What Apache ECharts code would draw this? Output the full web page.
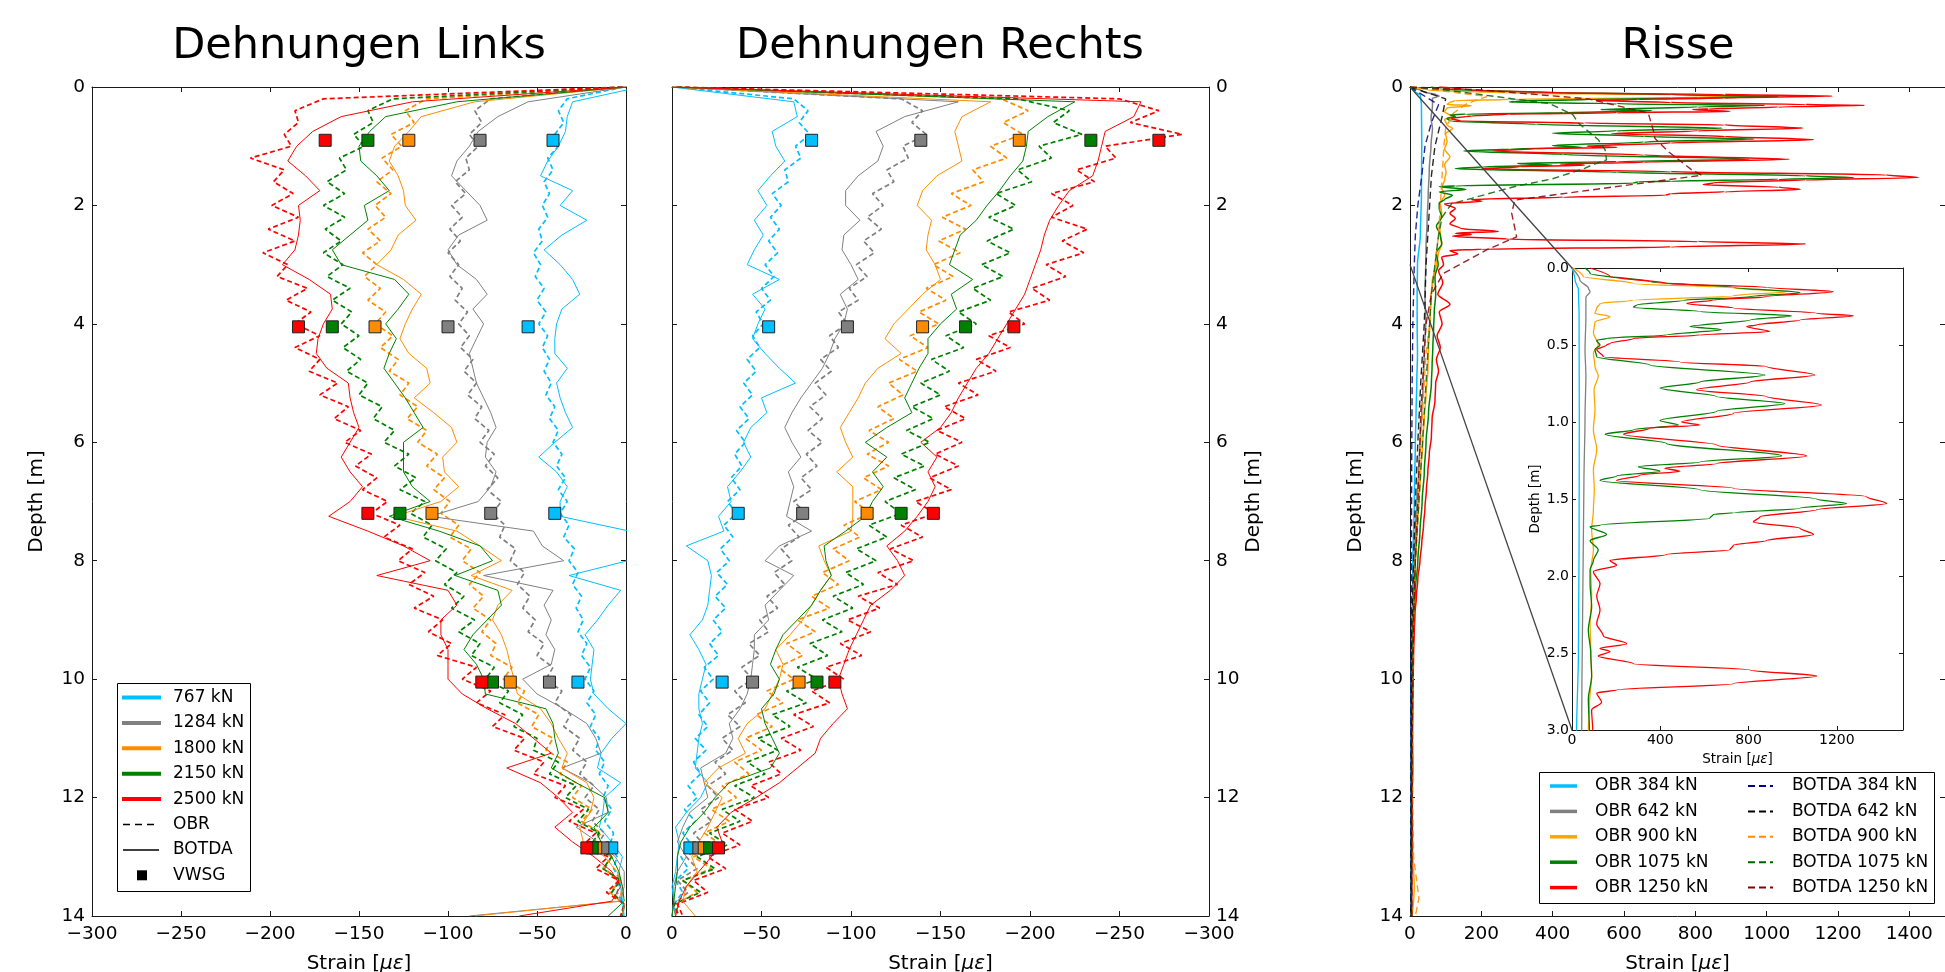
<!DOCTYPE html>
<html><head><meta charset="utf-8">
<script src="https://cdn.jsdelivr.net/npm/echarts/dist/echarts.min.js"></script>
<style>html,body{margin:0;padding:0;background:#fff;}#c{width:1945px;height:972px;}</style>
</head><body><div id="c"></div>
<script>
const FONT = 'DejaVu Sans';
// ---------- depth grids ----------
const depthObr = [0,0.2,0.4,0.6,0.8,1,1.2,1.4,1.6,1.8,2,2.2,2.4,2.6,2.8,3,3.2,3.4,3.6,3.8,4,4.2,4.4,4.6,4.8,5,5.2,5.4,5.6,5.8,6,6.2,6.4,6.6,6.8,7,7.2,7.4,7.6,7.8,8,8.2,8.4,8.6,8.8,9,9.2,9.4,9.6,9.8,10,10.2,10.4,10.6,10.8,11,11.2,11.4,11.6,11.8,12,12.2,12.4,12.6,12.8,13,13.2,13.4,13.6,13.8,14];
const depthBotda = [0,0.25,0.5,0.75,1,1.25,1.5,1.75,2,2.25,2.5,2.75,3,3.25,3.5,3.75,4,4.25,4.5,4.75,5,5.25,5.5,5.75,6,6.25,6.5,6.75,7,7.25,7.5,7.75,8,8.25,8.5,8.75,9,9.25,9.5,9.75,10,10.25,10.5,10.75,11,11.25,11.5,11.75,12,12.25,12.5,12.75,13,13.25,13.5,13.75,14];
const depthVwsg = [0.9,4.05,7.2,10.05,12.85];
const loadsDehn = ['767 kN','1284 kN','1800 kN','2150 kN','2500 kN'];
const loadsRisse = ['384 kN','642 kN','900 kN','1075 kN','1250 kN'];
const colorsDehn = ['#00bfff','#808080','#ff8c00','#008000','#ff0000'];
const colorsRisseObr = ['#00bfff','#808080','#ffa500','#008000','#ff0000'];
const colorsRisseBotda = ['#00008b','#000000','#ff8c00','#006400','#8b0000'];

// ---------- Dehnungen Links ----------
const obrL767 = [-1,-33,-38,-35,-40,-38,-44,-41,-46,-43,-47,-44,-49,-47,-52,-48,-51,-46,-50,-45,-49,-44,-47,-43,-46,-42,-45,-40,-43,-38,-41,-36,-39,-34,-38,-33,-37,-32,-35,-29,-32,-27,-30,-25,-28,-24,-27,-22,-25,-20,-23,-18,-22,-17,-20,-15,-17,-12,-15,-10,-13,-8,-12,-7,-9,-5,-7,-3,-5,-1,-2];
const obrL1284 = [-2,-76,-85,-81,-88,-83,-90,-88,-96,-90,-98,-92,-99,-93,-100,-94,-99,-92,-96,-89,-94,-88,-93,-86,-91,-84,-89,-81,-85,-77,-82,-74,-79,-72,-78,-70,-75,-68,-71,-62,-65,-57,-61,-54,-58,-51,-55,-46,-50,-41,-45,-36,-40,-31,-35,-26,-30,-22,-26,-18,-23,-15,-19,-12,-16,-8,-12,-4,-8,-1,-3];
const obrL1800 = [-2,-112,-124,-119,-132,-126,-137,-131,-140,-132,-141,-135,-145,-138,-148,-140,-147,-138,-145,-135,-141,-131,-138,-128,-133,-122,-127,-117,-123,-112,-117,-106,-112,-102,-108,-99,-104,-94,-99,-87,-92,-82,-88,-80,-86,-76,-81,-73,-76,-64,-69,-57,-61,-49,-53,-41,-45,-33,-37,-25,-30,-19,-25,-14,-19,-8,-13,-3,-9,-1,-2];
const obrL2150 = [-2,-131,-145,-142,-153,-147,-161,-157,-168,-158,-170,-158,-169,-160,-170,-159,-168,-155,-165,-154,-160,-150,-159,-149,-157,-145,-150,-137,-142,-130,-136,-122,-130,-118,-127,-113,-121,-109,-114,-101,-107,-95,-102,-91,-98,-85,-94,-82,-87,-74,-79,-66,-71,-58,-63,-50,-52,-38,-43,-28,-34,-21,-27,-15,-20,-8,-13,-3,-8,-1,-2];
const obrL2500 = [-2,-170,-186,-184,-192,-188,-211,-192,-198,-187,-199,-184,-201,-186,-204,-190,-196,-179,-191,-177,-186,-172,-186,-172,-178,-162,-172,-156,-164,-149,-158,-143,-152,-140,-148,-134,-143,-127,-136,-120,-128,-113,-122,-108,-119,-103,-111,-98,-106,-84,-92,-76,-84,-68,-75,-57,-63,-46,-52,-34,-40,-24,-32,-17,-24,-10,-17,-4,-11,-1,-3];
const botdaL767 = [8,-30,-33,-34,-38,-44,-48,-30,-37,-22,-36,-46,-37,-30,-26,-36,-39,-40,-40,-33,-39,-37,-34,-30,-40,-49,-39,-33,-37,-37,2,5,1,-32,-3,-10,-16,-23,-18,-19,-20,-18,-10,0,-8,-14,-16,-3,-12,-13,-15,-8,-2,-4,-3,-2,-1];
const botdaL1284 = [0,-55,-72,-83,-88,-95,-98,-90,-82,-78,-94,-100,-95,-84,-78,-86,-80,-84,-88,-86,-84,-80,-76,-73,-78,-79,-73,-76,-83,-110,-52,-47,-35,-80,-41,-46,-42,-45,-40,-42,-58,-50,-35,-22,-17,-14,-36,-20,-11,-10,-28,-16,-6,-1,-1,-3,-88];
const botdaL1800 = [0,-85,-115,-122,-130,-133,-128,-125,-124,-118,-128,-132,-140,-125,-115,-120,-124,-127,-122,-112,-110,-119,-108,-98,-95,-103,-102,-94,-104,-130,-95,-82,-70,-87,-64,-72,-75,-70,-67,-65,-63,-61,-48,-42,-38,-33,-36,-22,-18,-20,-26,-24,-12,-5,-2,-4,-85];
const botdaL2150 = [0,-95,-135,-144,-150,-149,-140,-133,-147,-145,-155,-165,-160,-130,-122,-128,-135,-129,-133,-136,-130,-124,-119,-114,-125,-125,-125,-120,-110,-133,-105,-82,-75,-96,-72,-70,-78,-86,-91,-84,-80,-79,-45,-41,-40,-38,-42,-28,-12,-10,-18,-14,-8,-4,-2,-1,-10];
const botdaL2500 = [0,-120,-160,-176,-185,-190,-180,-172,-184,-183,-184,-186,-193,-178,-166,-165,-170,-173,-174,-168,-156,-155,-153,-150,-155,-160,-155,-148,-155,-167,-145,-125,-110,-140,-100,-95,-104,-104,-100,-100,-100,-92,-78,-62,-52,-42,-67,-48,-38,-30,-40,-30,-18,-8,-3,-8,-60];
const vwsgL767 = [-41,-55,-40,-27,-8];
const vwsgL1284 = [-82,-100,-76,-43,-13];
const vwsgL1800 = [-122,-141,-109,-65,-17];
const vwsgL2150 = [-145,-165,-127,-75,-19];
const vwsgL2500 = [-169,-184,-145,-81,-22];

// ---------- Dehnungen Rechts ----------
const obrR767 = [-2,-68,-76,-71,-77,-69,-72,-63,-65,-56,-61,-55,-60,-54,-59,-52,-57,-50,-55,-47,-51,-45,-49,-42,-47,-40,-45,-38,-43,-36,-41,-35,-39,-33,-38,-31,-36,-29,-34,-27,-32,-25,-31,-24,-30,-23,-28,-21,-26,-18,-23,-16,-21,-15,-20,-13,-19,-12,-16,-9,-14,-7,-13,-6,-11,-5,-9,-2,-6,-1,-2];
const obrR1284 = [-2,-128,-140,-134,-142,-129,-132,-120,-124,-112,-118,-109,-117,-107,-113,-103,-109,-99,-104,-93,-98,-88,-93,-83,-89,-80,-86,-77,-84,-76,-84,-75,-81,-72,-78,-68,-75,-65,-71,-61,-67,-57,-63,-53,-59,-49,-54,-43,-49,-39,-45,-35,-41,-31,-38,-28,-34,-24,-30,-20,-26,-16,-22,-12,-18,-8,-14,-3,-9,-1,-2];
const obrR1800 = [-2,-184,-199,-185,-196,-178,-187,-168,-174,-156,-167,-151,-164,-149,-161,-146,-157,-142,-153,-138,-149,-133,-143,-127,-137,-121,-129,-115,-124,-110,-121,-109,-121,-107,-117,-102,-111,-96,-105,-90,-99,-84,-93,-78,-88,-70,-80,-64,-73,-59,-68,-53,-62,-47,-56,-41,-50,-35,-43,-28,-36,-22,-32,-18,-28,-12,-22,-6,-14,-2,-3];
const obrR2150 = [-3,-193,-222,-213,-229,-205,-212,-193,-201,-181,-192,-177,-191,-176,-189,-173,-185,-168,-178,-160,-170,-153,-163,-145,-155,-139,-150,-134,-146,-131,-144,-128,-141,-124,-136,-119,-128,-110,-120,-103,-114,-97,-107,-90,-101,-84,-95,-77,-87,-70,-81,-64,-75,-56,-66,-48,-59,-42,-52,-35,-46,-28,-38,-21,-31,-14,-24,-6,-16,-1,-4];
const obrR2500 = [-3,-250,-272,-256,-285,-242,-248,-226,-236,-212,-224,-212,-232,-218,-230,-209,-220,-201,-211,-188,-197,-177,-189,-170,-181,-160,-171,-152,-164,-148,-162,-147,-160,-144,-156,-136,-147,-128,-140,-122,-135,-115,-126,-104,-116,-98,-111,-94,-106,-86,-96,-78,-88,-68,-79,-61,-72,-54,-61,-44,-54,-35,-45,-28,-38,-20,-30,-12,-20,-3,-6];
const botdaR767 = [0,-68,-70,-56,-58,-63,-55,-48,-53,-46,-51,-46,-42,-60,-45,-52,-48,-45,-52,-60,-69,-50,-53,-44,-40,-44,-38,-31,-33,-26,-29,-8,-20,-22,-21,-20,-17,-10,-15,-19,-17,-15,-15,-17,-15,-14,-13,-20,-16,-8,-2,-4,-3,-2,0,-1,0];
const botdaR1284 = [0,-160,-130,-114,-118,-115,-104,-97,-97,-105,-96,-95,-100,-104,-94,-98,-96,-91,-88,-84,-78,-72,-67,-63,-67,-72,-65,-68,-66,-64,-78,-60,-52,-68,-60,-52,-54,-46,-46,-45,-44,-42,-38,-32,-34,-30,-16,-18,-20,-10,-6,-3,-8,-3,-1,-1,0];
const botdaR1800 = [0,-178,-162,-158,-160,-162,-148,-140,-137,-145,-143,-142,-147,-150,-140,-132,-124,-119,-128,-115,-108,-104,-99,-94,-97,-101,-92,-101,-101,-101,-100,-82,-85,-89,-83,-78,-73,-66,-58,-62,-60,-56,-52,-42,-37,-41,-26,-18,-28,-24,-20,-15,-11,-14,-8,-6,-13];
const botdaR2150 = [0,-225,-210,-199,-198,-196,-189,-183,-176,-170,-161,-158,-155,-168,-156,-159,-150,-143,-143,-138,-134,-130,-134,-120,-108,-120,-112,-118,-112,-108,-97,-85,-86,-89,-83,-78,-70,-62,-58,-55,-60,-57,-50,-52,-56,-60,-55,-32,-24,-18,-10,-5,-3,-3,-2,-1,0];
const botdaR2500 = [0,-262,-258,-242,-240,-238,-235,-222,-216,-211,-208,-206,-203,-200,-197,-192,-187,-182,-177,-170,-165,-160,-156,-150,-139,-148,-143,-147,-143,-137,-130,-120,-126,-130,-122,-111,-107,-103,-99,-96,-93,-95,-98,-90,-83,-80,-70,-60,-47,-33,-25,-28,-22,-15,-8,-4,-2];
const vwsgR767 = [-78,-54,-37,-28,-10];
const vwsgR1284 = [-139,-98,-73,-45,-15];
const vwsgR1800 = [-194,-140,-109,-71,-18];
const vwsgR2150 = [-234,-164,-128,-81,-21];
const vwsgR2500 = [-272,-191,-146,-91,-26];

// ---------- Risse ----------
const risseDepth384 = [0,0.08,0.14,0.3,0.97,1.83,2.5,3.0,3.5,4.0,4.5,5.0,5.5,6.0,7.0,8.0,9.0,10,11,12,13,14];
const risseObr384 = [0,14,29,32,33,32,29,21,20,20,21,19,17,15,12,8,6,4,3,3,2,2];
const risseDepth642 = [0,0.08,0.13,0.154,0.19,0.32,0.53,0.7,0.97,1.4,1.83,2.26,2.7,3.0,3.5,4.0,4.5,5.0,5.5,6.0,6.5,7.0,7.5,8.0,8.5,9.0,10,11,12,13,14];
const risseObr642 = [0,36,74,82,63,63,59,63,59,54,51,48,45,44,42,44,40,37,33,28,24,19,15,11,8,6,5,4,4,3,3];
const risseDepth900 = [0,0.056,0.1,0.13,0.154,0.18,0.21,0.23,0.26,0.294,0.316,0.35,0.42,0.5,0.55,0.64,0.7,0.79,0.92,1.05,1.18,1.31,1.44,1.57,1.7,1.83,1.96,2.13,2.31,2.48,2.65,2.83,3.0,3.3,3.6,4.0,4.4,4.8,5.2,5.6,6.0,6.5,7.0,7.5,8.0,8.5,9,10,11,12,13,13.5,14];
const risseObr900 = [6,51,278,731,973,731,278,127,112,104,172,104,97,119,97,104,119,100,104,97,112,97,101,97,89,97,85,89,82,85,89,79,74,62,58,56,52,50,45,40,36,30,25,20,15,12,9,7,6,6,8,12,6];
const risseDepth1075 = [0,0.035,0.09,0.125,0.16,0.186,0.21,0.24,0.255,0.283,0.31,0.338,0.38,0.40,0.435,0.457,0.47,0.5,0.53,0.576,0.63,0.695,0.74,0.78,0.835,0.88,0.93,0.99,1.02,1.05,1.08,1.14,1.22,1.26,1.29,1.32,1.35,1.38,1.44,1.5,1.53,1.56,1.59,1.6,1.625,1.67,1.68,1.73,1.77,1.83,1.9,1.96,2.05,2.2,2.35,2.5,2.65,2.8,3.0,3.2,3.5,3.8,4.1,4.4,4.7,5.0,5.5,6.0,6.5,7.0,7.5,8.0,8.5,9.0,9.5,10,11,12,13,14];
const risseObr1075 = [59,82,353,731,1033,807,505,293,278,580,995,807,535,678,429,157,112,127,104,112,353,875,580,399,656,965,656,399,482,278,150,429,950,580,301,399,202,127,580,1109,1245,1033,731,640,625,127,82,157,82,119,97,82,82,89,74,85,89,74,79,70,72,68,66,64,62,60,52,45,40,34,28,22,15,10,8,6,5,5,4,4];
const risseDepth1250 = [0,0.056,0.1,0.125,0.154,0.186,0.208,0.23,0.26,0.294,0.31,0.338,0.37,0.38,0.413,0.435,0.457,0.49,0.5,0.53,0.576,0.61,0.64,0.695,0.74,0.79,0.835,0.89,0.944,1.0,1.02,1.04,1.08,1.15,1.22,1.27,1.3,1.32,1.345,1.38,1.43,1.485,1.53,1.57,1.615,1.65,1.69,1.73,1.77,1.8,1.83,1.86,1.9,1.93,1.97,2.05,2.13,2.22,2.31,2.39,2.44,2.47,2.49,2.52,2.57,2.61,2.65,2.7,2.74,2.76,2.82,2.87,3.0,3.1,3.3,3.5,3.67,3.8,4.0,4.2,4.4,4.6,4.8,5.0,5.3,5.6,5.9,6.2,6.5,6.8,7.1,7.4,7.7,8.0,8.3,8.6,8.9,9.2,9.6,10,10.5,11,11.5,12,12.5,13,13.5,14];
const risseObr1250 = [82,172,429,882,1184,882,640,520,731,1109,1275,1033,837,792,897,580,278,172,157,112,142,489,882,1101,807,565,882,1131,731,497,580,353,233,656,1063,656,421,489,308,202,731,1335,1426,1109,852,822,1033,1094,882,731,716,429,172,202,97,127,112,127,112,142,248,127,172,119,278,807,1109,731,202,112,134,89,94,80,92,78,112,82,90,76,85,74,80,72,70,62,60,54,50,46,42,38,33,28,22,18,14,12,10,9,8,7,8,6,6,5,5,4];
const risseBotDepth384 = [0,0.3,0.6,1.0,1.5,2.0,2.5,3.0,4.0,5.0,6.0,8.0,10,12,14];
const risseBotda384 = [0,80,60,42,33,22,15,12,8,6,5,4,3,3,2];
const risseBotDepth642 = [0,0.2,0.5,1.0,1.5,2.0,2.5,3.0,4.0,5.0,6.0,7.0,8.0,9.0,10,12,14];
const risseBotda642 = [0,100,90,70,60,55,50,45,40,30,22,15,10,6,4,3,3];
const risseBotDepth900 = [0,0.16,0.28,0.45,0.7,1.0,1.5,2.0,2.5,3.0,3.5,4.0,4.5,5.0,6.0,7.0,8.0,9.0,10,12,13,13.7,14];
const risseBotda900 = [0,216,160,120,100,95,90,85,80,70,60,55,45,40,30,22,15,10,8,8,10,25,15];
const risseBotDepth1075 = [0,0.05,0.28,0.47,0.61,0.89,1.06,1.23,1.32,1.37,1.55,1.68,1.88,1.97,2.2,2.5,3.0,3.5,4.0,5.0,6.0,7.0,8.0,9.0,10,12,14];
const risseBotda1075 = [0,100,391,457,472,528,547,551,509,491,400,294,173,117,90,80,70,60,55,45,35,25,15,9,6,5,4];
const risseBotDepth1250 = [0,0.05,0.2,0.44,0.73,0.87,1.09,1.4,1.49,1.91,2.13,2.53,2.75,3.15,3.5,4.0,4.5,5.0,5.5,6.0,7.0,8.0,9.0,10,11,12,13,14];
const risseBotda1250 = [0,200,500,668,682,687,724,790,818,294,285,299,215,93,60,45,40,35,30,28,22,15,10,8,6,5,5,5];

// ---------- build ----------
function pairs(vals, depths){ return vals.map((v,i)=>[v, depths[i]]); }
const minusFmt = v => String(v).replace('-', '\u2212');
const AX = '#1a1a1a';
function xAx(grid, min, max, interval, o){
  return Object.assign({type:'value', gridIndex:grid, min, max, interval, position:'bottom',
    axisLine:{show:true, onZero:false, lineStyle:{color:AX, width:1}},
    axisTick:{show:true, inside:true, length:5, lineStyle:{color:AX, width:1}},
    splitLine:{show:false},
    axisLabel:{show:true, color:'#000', fontFamily:FONT, fontSize:18.5, margin:9, formatter:minusFmt}}, o||{});
}
function yAx(grid, min, max, interval, o){
  return Object.assign({type:'value', gridIndex:grid, min, max, interval, inverse:true, position:'left',
    axisLine:{show:true, onZero:false, lineStyle:{color:AX, width:1}},
    axisTick:{show:true, inside:true, length:5, lineStyle:{color:AX, width:1}},
    splitLine:{show:false},
    axisLabel:{show:true, color:'#000', fontFamily:FONT, fontSize:18.5, margin:7}}, o||{});
}
const strainName = {name:'Strain [{i|\u03bc\u03b5}]', nameLocation:'middle', nameGap:38,
  nameTextStyle:{fontFamily:FONT, fontSize:20, color:'#000', rich:{i:{fontFamily:FONT, fontSize:20, fontStyle:'italic', color:'#000'}}}};
const depthName = {name:'Depth [m]', nameLocation:'middle', nameRotate:90, nameTextStyle:{fontFamily:FONT, fontSize:20, color:'#000'}};
const noLab = {axisLabel:{show:false}};

const grids = [
  {left:92, top:87, width:534, height:829},
  {left:672, top:87, width:537, height:829},
  {left:1410, top:87, width:535, height:829},
  {left:1572, top:268, width:331, height:462, show:true, backgroundColor:'#fff', borderWidth:0}
].map(g=>Object.assign({containLabel:false, outerBoundsMode:'none'}, g));

const xAxes = [
  xAx(0,-300,0,50, strainName),
  xAx(0,-300,0,50, Object.assign({position:'top'}, noLab)),
  xAx(1,-300,0,50, Object.assign({inverse:true}, strainName)),
  xAx(1,-300,0,50, Object.assign({inverse:true, position:'top'}, noLab)),
  xAx(2,0,1500,200, Object.assign({}, strainName, {axisLabel:{show:true,color:'#000',fontFamily:FONT,fontSize:18.5,margin:9,formatter:v=>v%200===0?String(v):''}})),
  xAx(2,0,1500,200, Object.assign({position:'top'}, noLab)),
  xAx(3,0,1500,400, {name:'Strain [{i|\u03bc\u03b5}]', nameLocation:'middle', nameGap:22,
    nameTextStyle:{fontFamily:FONT, fontSize:13.5, color:'#000', rich:{i:{fontFamily:FONT, fontSize:13.5, fontStyle:'italic', color:'#000'}}},
    axisTick:{show:true, inside:true, length:4, lineStyle:{color:AX}},
    axisLabel:{show:true,color:'#000',fontFamily:FONT,fontSize:14,margin:3,formatter:v=>v%400===0?String(v):''}}),
  xAx(3,0,1500,400, {position:'top', axisLabel:{show:false}, axisTick:{show:true, inside:true, length:4, lineStyle:{color:AX}}})
];
const yAxes = [
  yAx(0,0,14,2, Object.assign({nameGap:45}, depthName)),
  yAx(0,0,14,2, Object.assign({position:'right'}, noLab)),
  yAx(1,0,14,2, noLab),
  yAx(1,0,14,2, Object.assign({position:'right', nameGap:28, axisLabel:{show:true,color:'#000',fontFamily:FONT,fontSize:18.5,margin:7}}, depthName)),
  yAx(2,0,14,2, Object.assign({nameGap:44}, depthName)),
  yAx(2,0,14,2, Object.assign({position:'right'}, noLab)),
  yAx(3,0,3,0.5, {name:'Depth [m]', nameLocation:'middle', nameRotate:90, nameGap:30,
    nameTextStyle:{fontFamily:FONT, fontSize:13.5, color:'#000'},
    axisTick:{show:true, inside:true, length:4, lineStyle:{color:AX}},
    axisLabel:{show:true,color:'#000',fontFamily:FONT,fontSize:14,margin:3,formatter:v=>v.toFixed(1)}}),
  yAx(3,0,3,0.5, {position:'right', axisLabel:{show:false}, axisTick:{show:true, inside:true, length:4, lineStyle:{color:AX}}})
];

const series = [];
function addDehn(prefix, obr, bot, vw, xi, yi){
  obr.forEach((arr,k)=>series.push({type:'line', name:prefix+' OBR '+loadsDehn[k], xAxisIndex:xi, yAxisIndex:yi,
    data:pairs(arr, depthObr), symbol:'none', clip:true, lineStyle:{color:colorsDehn[k], width:1.7, type:[5,3]}, z:2}));
  bot.forEach((arr,k)=>series.push({type:'line', name:prefix+' BOTDA '+loadsDehn[k], xAxisIndex:xi, yAxisIndex:yi,
    data:pairs(arr, depthBotda), symbol:'none', clip:true, lineStyle:{color:colorsDehn[k], width:1}, z:3}));
  vw.forEach((arr,k)=>series.push({type:'scatter', name:prefix+' VWSG '+loadsDehn[k], xAxisIndex:xi, yAxisIndex:yi,
    data:pairs(arr, depthVwsg), symbol:'rect', symbolSize:12, itemStyle:{color:colorsDehn[k], borderColor:'#222', borderWidth:1, opacity:1}, z:5}));
}
addDehn('Links', [obrL767,obrL1284,obrL1800,obrL2150,obrL2500], [botdaL767,botdaL1284,botdaL1800,botdaL2150,botdaL2500], [vwsgL767,vwsgL1284,vwsgL1800,vwsgL2150,vwsgL2500], 0, 0);
addDehn('Rechts', [obrR767,obrR1284,obrR1800,obrR2150,obrR2500], [botdaR767,botdaR1284,botdaR1800,botdaR2150,botdaR2500], [vwsgR767,vwsgR1284,vwsgR1800,vwsgR2150,vwsgR2500], 2, 3);

const risseObr = [[risseObr384,risseDepth384],[risseObr642,risseDepth642],[risseObr900,risseDepth900],[risseObr1075,risseDepth1075],[risseObr1250,risseDepth1250]];
const risseBot = [[risseBotda384,risseBotDepth384],[risseBotda642,risseBotDepth642],[risseBotda900,risseBotDepth900],[risseBotda1075,risseBotDepth1075],[risseBotda1250,risseBotDepth1250]];
const sRisse = series.length;
risseObr.forEach((p,k)=>series.push({type:'line', name:'OBR '+loadsRisse[k], xAxisIndex:4, yAxisIndex:4,
  data:pairs(p[0],p[1]), symbol:'none', clip:true, smooth:0.3, smoothMonotone:'y', lineStyle:{color:colorsRisseObr[k], width:1.5}, z:2}));
risseBot.forEach((p,k)=>series.push({type:'line', name:'BOTDA '+loadsRisse[k], xAxisIndex:4, yAxisIndex:4,
  data:pairs(p[0],p[1]), symbol:'none', clip:true, lineStyle:{color:colorsRisseBotda[k], width:1.4, type:[7,4], opacity:0.85}, z:3}));
const sInset = series.length;
risseObr.forEach((p,k)=>series.push({type:'line', name:'Inset OBR '+loadsRisse[k], xAxisIndex:6, yAxisIndex:6,
  data:pairs(p[0],p[1]), symbol:'none', clip:true, smooth:0.3, smoothMonotone:'y', lineStyle:{color:colorsRisseObr[k], width:1.3}, z:4}));

const titleStyle = {fontFamily:FONT, fontSize:43, fontWeight:'normal', color:'#000'};
const option = {
  animation:false, backgroundColor:'#fff',
  title:[
    {text:'Dehnungen Links', left:359, top:25, textAlign:'center', padding:0, textStyle:titleStyle},
    {text:'Dehnungen Rechts', left:940, top:25, textAlign:'center', padding:0, textStyle:titleStyle},
    {text:'Risse', left:1678, top:25, textAlign:'center', padding:0, textStyle:titleStyle}
  ],
  grid:grids, xAxis:xAxes, yAxis:yAxes, series
};
const chart = echarts.init(document.getElementById('c'), null, {renderer:'canvas'});
chart.setOption(option);

// ---------- legends and inset connectors ----------
const g = [];
const step = 25.4;
g.push({type:'rect', shape:{x:117.5, y:683.5, width:133, height:208}, style:{fill:'#fff', stroke:'#000', lineWidth:1}, z:100, silent:true});
loadsDehn.forEach((lab,k)=>{
  const y = 697.5 + step*k;
  g.push({type:'line', shape:{x1:122, y1:y, x2:161, y2:y}, style:{stroke:colorsDehn[k], lineWidth:4}, z:101, silent:true});
  g.push({type:'text', style:{text:lab, x:173, y:y, fontSize:17, fontFamily:FONT, fill:'#000', verticalAlign:'middle'}, z:101, silent:true});
});
const yObr = 697.5 + step*5, yBot = 697.5 + step*6, yVw = 697.5 + step*7;
g.push({type:'line', shape:{x1:123, y1:yObr, x2:158, y2:yObr}, style:{stroke:'#000', lineWidth:1.5, lineDash:[7,5]}, z:101, silent:true});
g.push({type:'text', style:{text:'OBR', x:173, y:yObr, fontSize:17, fontFamily:FONT, fill:'#000', verticalAlign:'middle'}, z:101, silent:true});
g.push({type:'line', shape:{x1:123, y1:yBot, x2:159, y2:yBot}, style:{stroke:'#000', lineWidth:1.5}, z:101, silent:true});
g.push({type:'text', style:{text:'BOTDA', x:173, y:yBot, fontSize:17, fontFamily:FONT, fill:'#000', verticalAlign:'middle'}, z:101, silent:true});
g.push({type:'rect', shape:{x:137, y:yVw-5, width:10, height:10}, style:{fill:'#000'}, z:101, silent:true});
g.push({type:'text', style:{text:'VWSG', x:173, y:yVw, fontSize:17, fontFamily:FONT, fill:'#000', verticalAlign:'middle'}, z:101, silent:true});

g.push({type:'rect', shape:{x:1539.5, y:772.5, width:395, height:131}, style:{fill:'#fff', stroke:'#000', lineWidth:1}, z:100, silent:true});
loadsRisse.forEach((lab,k)=>{
  const y = 786 + step*k;
  g.push({type:'line', shape:{x1:1550, y1:y, x2:1577, y2:y}, style:{stroke:colorsRisseObr[k], lineWidth:3.5}, z:101, silent:true});
  g.push({type:'text', style:{text:'OBR '+lab, x:1595, y:y, fontSize:17, fontFamily:FONT, fill:'#000', verticalAlign:'middle'}, z:101, silent:true});
  g.push({type:'line', shape:{x1:1748, y1:y, x2:1773, y2:y}, style:{stroke:colorsRisseBotda[k], lineWidth:2, lineDash:[7,4]}, z:101, silent:true});
  g.push({type:'text', style:{text:'BOTDA '+lab, x:1792, y:y, fontSize:17, fontFamily:FONT, fill:'#000', verticalAlign:'middle'}, z:101, silent:true});
});
const a0 = chart.convertToPixel({seriesIndex:sRisse}, [0,0]);
const a1 = chart.convertToPixel({seriesIndex:sRisse}, [0,3]);
const b0 = chart.convertToPixel({seriesIndex:sInset}, [0,0]);
const b1 = chart.convertToPixel({seriesIndex:sInset}, [0,3]);
g.push({type:'line', shape:{x1:a0[0], y1:a0[1], x2:b0[0], y2:b0[1]}, style:{stroke:'#444', lineWidth:1.3}, z:60, silent:true});
g.push({type:'line', shape:{x1:a1[0], y1:a1[1], x2:b1[0], y2:b1[1]}, style:{stroke:'#444', lineWidth:1.3}, z:60, silent:true});
chart.setOption({graphic:g});
</script></body></html>
